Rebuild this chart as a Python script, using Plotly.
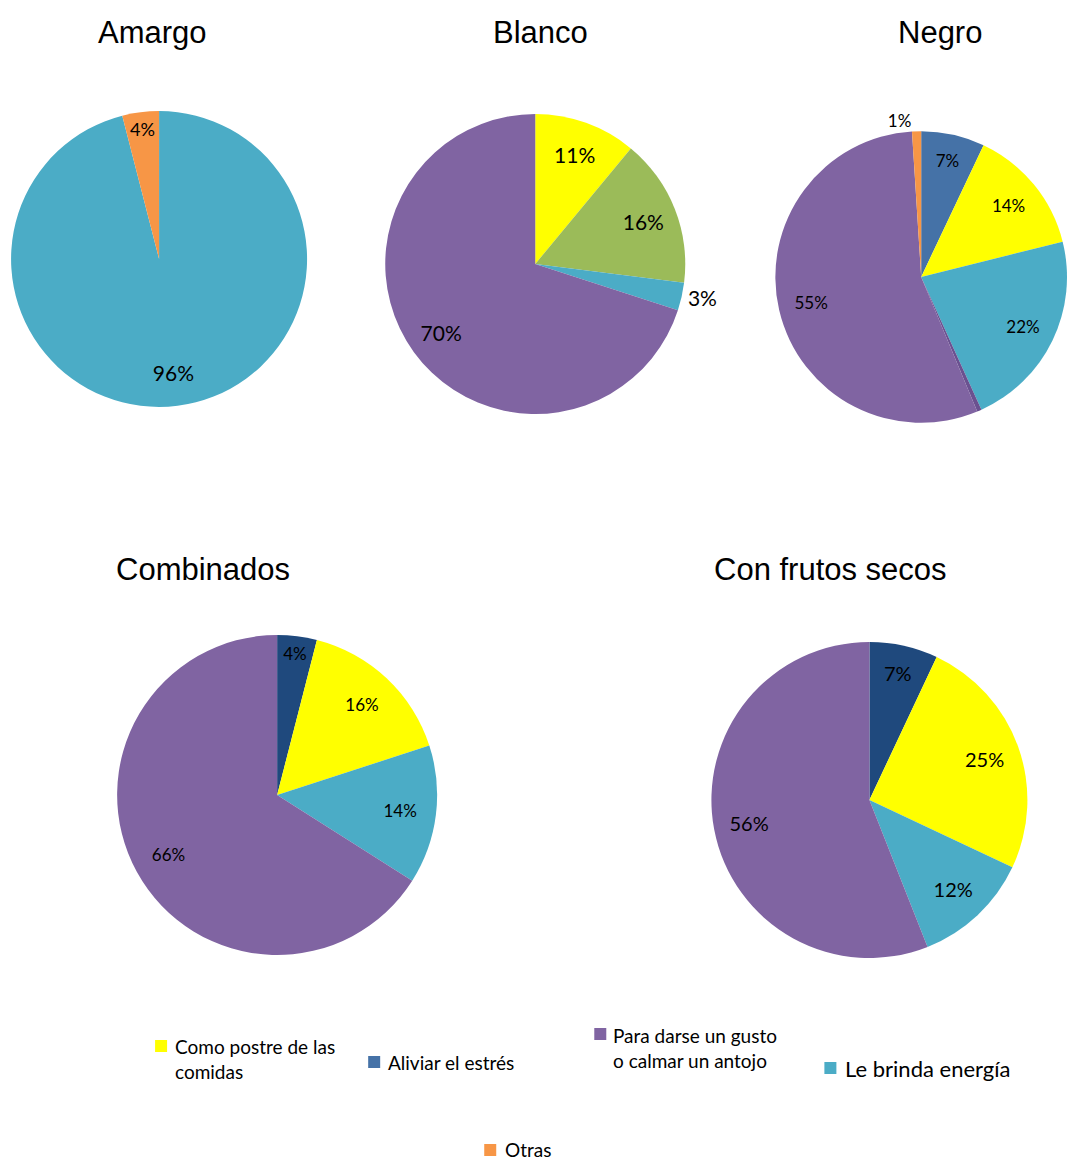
import plotly.graph_objects as go

# ---- data -------------------------------------------------------------
amargo_labels = ["Le brinda energía", "Otras"]
amargo_values = [96, 4]

blanco_labels = ["Como postre de las comidas", "Aliviar el estrés (otro)", "Le brinda energía",
                 "Para darse un gusto o calmar un antojo"]
blanco_values = [11, 16, 3, 70]

negro_labels = ["Aliviar el estrés", "Como postre de las comidas", "Le brinda energía", "Ns/Nc",
                "Para darse un gusto o calmar un antojo", "Otras"]
negro_values = [7, 14, 22, 0.5, 55, 1]

combinados_labels = ["Aliviar el estrés", "Como postre de las comidas", "Le brinda energía",
                     "Para darse un gusto o calmar un antojo"]
combinados_values = [4, 16, 14, 66]

frutos_labels = ["Aliviar el estrés", "Como postre de las comidas", "Le brinda energía",
                 "Para darse un gusto o calmar un antojo"]
frutos_values = [7, 25, 12, 56]

chart_titles = ["Amargo", "Blanco", "Negro", "Combinados", "Con frutos secos"]

legend_labels = ["Como postre de las<br>comidas", "Aliviar el estrés",
                 "Para darse un gusto<br>o calmar un antojo", "Le brinda energía", "Otras"]

# ---- colours ----------------------------------------------------------
TEAL = "#4BACC6"
ORANGE = "#F79646"
YELLOW = "#FFFF00"
GREEN = "#9BBB59"
PURPLE = "#8064A2"
PURPLE_DK = "#6A5190"
BLUE = "#4572A7"
NAVY = "#1F497D"
CLEAR = "rgba(0,0,0,0)"

legend_colors = [YELLOW, BLUE, PURPLE, TEAL, ORANGE]

W, H = 1072, 1160
XSPAN = 1066.5  # horizontal pixel span used for positioning
LABEL_FONT = "Lato, 'Open Sans', sans-serif"
TITLE_FONT = "'Liberation Sans', Arial, sans-serif"


def px_x(x):
    return x / XSPAN


def px_y(y):
    return 1 - y / H


def dom(cx, cy, r):
    return dict(x=[max(0, px_x(cx - r)), min(1, px_x(cx + r))],
                y=[max(0, px_y(cy + r)), min(1, px_y(cy - r))])


def pie_pair(labels, values, colors, domain, size, positions, templates, hole=0.55):
    """Filled pie plus a transparent ring carrying the percentage labels."""
    body = go.Pie(
        labels=labels, values=values, sort=False, direction="clockwise", rotation=0,
        marker=dict(colors=colors, line=dict(width=0)),
        domain=domain, textinfo="none", showlegend=False,
        hovertemplate="%{label}: %{value}%<extra></extra>",
    )
    text = go.Pie(
        labels=labels, values=values, sort=False, direction="clockwise", rotation=0,
        hole=hole, marker=dict(colors=[CLEAR] * len(values), line=dict(width=0)),
        domain=domain, textposition=positions, texttemplate=templates,
        textfont=dict(family=LABEL_FONT, size=size, color="black"),
        insidetextorientation="horizontal", showlegend=False, hoverinfo="skip",
    )
    return [body, text]


def pct(values, skip=()):
    return ["" if i in skip else "%{value}%" for i in range(len(values))]


fig = go.Figure()

fig.add_traces(pie_pair(amargo_labels, amargo_values, [TEAL, ORANGE], dom(159, 259, 148), 21,
                        ["inside", "inside"], pct(amargo_values)))
fig.add_traces(pie_pair(blanco_labels, blanco_values, [YELLOW, GREEN, TEAL, PURPLE], dom(535, 264, 150), 21,
                        ["inside", "inside", "outside", "inside"], pct(blanco_values)))
fig.add_traces(pie_pair(negro_labels, negro_values, [BLUE, YELLOW, TEAL, PURPLE_DK, PURPLE, ORANGE],
                        dom(921, 277, 146), 17,
                        ["inside", "inside", "inside", "inside", "inside", "outside"],
                        pct(negro_values, skip=(3,))))
fig.add_traces(pie_pair(combinados_labels, combinados_values, [NAVY, YELLOW, TEAL, PURPLE],
                        dom(277, 795, 160), 17, ["inside"] * 4, pct(combinados_values)))
fig.add_traces(pie_pair(frutos_labels, frutos_values, [NAVY, YELLOW, TEAL, PURPLE],
                        dom(869, 800, 158), 20, ["inside"] * 4, pct(frutos_values)))

annotations = []
# chart titles
title_pos = [(152, 32), (540, 32), (940, 32), (203, 569), (830, 569)]
for t, (x, y) in zip(chart_titles, title_pos):
    annotations.append(dict(text=t, x=px_x(x), y=px_y(y), xref="paper", yref="paper",
                            xanchor="center", yanchor="middle", showarrow=False,
                            font=dict(family=TITLE_FONT, size=31, color="black")))

# legend: square swatch + label
shapes = []
legend_pos = [  # (square left, square top, text left, text centre y, font size)
    (155, 1040, 173, 1059, 19),
    (368, 1056, 386, 1062, 19),
    (594, 1028, 611, 1048, 19),
    (824, 1062, 843, 1068, 22),
    (484, 1144, 503, 1149, 19),
]
for lab, col, (sx, sy, tx, ty, fs) in zip(legend_labels, legend_colors, legend_pos):
    shapes.append(dict(type="rect", xref="paper", yref="paper",
                       x0=px_x(sx), x1=px_x(sx + 12), y0=px_y(sy), y1=px_y(sy + 12),
                       fillcolor=col, line=dict(width=0)))
    annotations.append(dict(text=lab, x=px_x(tx), y=px_y(ty), xref="paper", yref="paper",
                            xanchor="left", yanchor="middle", align="left", showarrow=False,
                            font=dict(family=LABEL_FONT, size=fs, color="black")))

fig.update_layout(
    width=W, height=H, margin=dict(l=0, r=0, t=0, b=0),
    paper_bgcolor="white", plot_bgcolor="white",
    annotations=annotations, shapes=shapes,
)

fig.write_html("out.html")
